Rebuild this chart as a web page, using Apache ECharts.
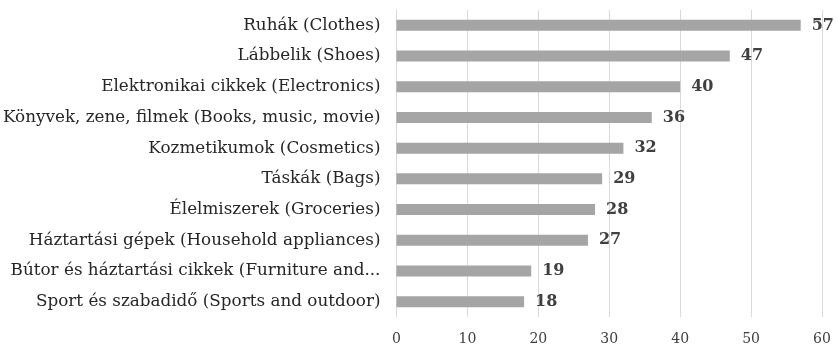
<!DOCTYPE html>
<html><head><meta charset="utf-8">
<script src="https://cdn.jsdelivr.net/npm/echarts@6/dist/echarts.min.js"></script>
<style>html,body{margin:0;padding:0;background:#fff}#c{width:837px;height:347px}</style>
</head><body><div id="c"></div>
<script>
const categories = [
  "Ruhák (Clothes)",
  "Lábbelik (Shoes)",
  "Elektronikai cikkek (Electronics)",
  "Könyvek, zene, filmek (Books, music, movie)",
  "Kozmetikumok (Cosmetics)",
  "Táskák (Bags)",
  "Élelmiszerek (Groceries)",
  "Háztartási gépek (Household appliances)",
  "Bútor és háztartási cikkek (Furniture and...",
  "Sport és szabadidő (Sports and outdoor)"
];
const values = [57, 47, 40, 36, 32, 29, 28, 27, 19, 18];
const xTicks = [0, 10, 20, 30, 40, 50, 60];

const font = "'DejaVu Serif', Georgia, serif";
const chart = echarts.init(document.getElementById('c'));
chart.setOption({
  animation: false,
  grid: { left: 395, right: 15, top: 10, bottom: 30, containLabel: false },
  xAxis: {
    type: 'value', min: xTicks[0], max: xTicks[xTicks.length - 1], interval: 10,
    axisLine: { show: false }, axisTick: { show: false },
    splitLine: { show: true, lineStyle: { color: '#d9d9d9', width: 1 } },
    axisLabel: { color: '#404040', fontFamily: font, fontSize: 14, margin: 15 }
  },
  yAxis: {
    type: 'category', data: categories.slice().reverse(),
    axisLine: { show: true, lineStyle: { color: '#d9d9d9', width: 1 } },
    axisTick: { show: false },
    axisLabel: { color: '#262626', fontFamily: font, fontSize: 16.8, margin: 16 }
  },
  series: [{
    type: 'bar', data: values.slice().reverse(), barWidth: 11,
    itemStyle: { color: '#a5a5a5' },
    label: { show: true, position: 'right', distance: 11, color: '#404040',
      fontFamily: font, fontWeight: 'bold', fontSize: 16 }
  }]
});
</script></body></html>
